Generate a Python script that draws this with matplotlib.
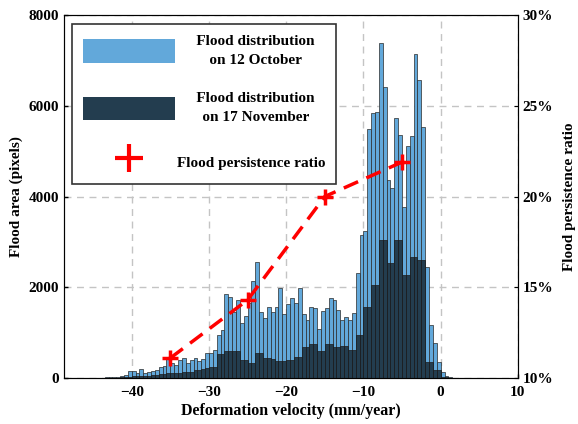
import numpy as np
import matplotlib
matplotlib.use('Agg')
import matplotlib.pyplot as plt
from matplotlib.patches import Patch
from matplotlib.lines import Line2D
from matplotlib.ticker import FuncFormatter

# histogram bins (left edges, mm/year), width 0.5
bin_lefts = np.arange(-44, 2, 0.5)
bin_width = 0.5

# flood area on 12 October (pixels)
october = [10, 15, 20, 25, 30, 35, 66, 161,
           161, 117, 191, 117, 140, 161, 176, 235, 257, 433,
           323, 290, 397, 433, 330, 400, 430, 380, 425, 560,
           543, 617, 948, 1058, 1844, 1778, 1462, 1719, 1219, 1366,
           1645, 2145, 2549, 1462, 1315, 1572, 1462, 1557, 1976, 1410,
           1631, 1756, 1645, 1976, 1410, 1278, 1572, 1550, 1072, 1477,
           1535, 1756, 1719, 1499, 1278, 1352, 1278, 1440, 2310, 3160,
           3230, 5480, 5833, 5870, 7376, 6406, 4364, 4180, 5741, 5366,
           3776, 5105, 5333, 7134, 6567, 5540, 2454, 1168, 764, 360,
           140, 40, 15, 8]

# flood area on 17 November (pixels)
november = [3, 5, 6, 8, 10, 12, 25, 30,
            35, 40, 45, 50, 55, 60, 70, 80, 90, 100,
            105, 110, 120, 125, 135, 140, 170, 176, 205, 213,
            250, 250, 529, 529, 602, 602, 598, 598, 397, 397,
            323, 323, 544, 544, 433, 433, 411, 380, 364, 364,
            405, 405, 470, 470, 690, 690, 749, 749, 602, 602,
            749, 749, 690, 690, 705, 705, 617, 617, 944, 944,
            1572, 1572, 2050, 2050, 3041, 3041, 2527, 2527, 3034, 3034,
            2270, 2270, 2674, 2674, 2600, 2600, 360, 360, 176, 176,
            30, 30, 5, 5]

# flood persistence ratio (%)
ratio_x = [-35, -25, -15, -5]
ratio_y = [11.1, 14.3, 20.0, 21.9]

light_blue = '#62a8da'
dark_blue = '#233d4f'

plt.rcParams['font.family'] = ['Liberation Serif', 'DejaVu Serif']
plt.rcParams['font.weight'] = 'bold'

fig = plt.figure(figsize=(5.78, 4.24), dpi=100)
ax = fig.add_axes([0.111, 0.1085, 0.785, 0.856])

ax.bar(bin_lefts, october, width=bin_width, align='edge', color=light_blue,
       edgecolor='#2a2a2a', linewidth=0.5)
ax.bar(bin_lefts, november, width=bin_width, align='edge', color=dark_blue,
       edgecolor='#1a1a1a', linewidth=0.5)

ax.set_xlim(-48.75, 10)
ax.set_ylim(0, 8000)
ax.set_xticks([-40, -30, -20, -10, 0, 10])
ax.set_yticks([0, 2000, 4000, 6000, 8000])
ax.set_axisbelow(True)
ax.grid(True, linestyle='--', color='#c4c4c4', linewidth=1, dashes=(5, 4))
ax.tick_params(direction='in', length=3, labelsize=11, width=1)
ax.tick_params(axis='x', pad=6)
for lab in ax.get_xticklabels() + ax.get_yticklabels():
    lab.set_fontweight('bold')
for sp in ax.spines.values():
    sp.set_color('#333333')

ax.set_xlabel('Deformation velocity (mm/year)', fontsize=11.5, fontweight='bold', labelpad=3)
ax.set_ylabel('Flood area (pixels)', fontsize=11, fontweight='bold', labelpad=4)

ax2 = ax.twinx()
ax2.set_ylim(10, 30)
ax2.set_yticks([10, 15, 20, 25, 30])
ax2.yaxis.set_major_formatter(FuncFormatter(lambda v, p: '%d%%' % v))
ax2.tick_params(direction='in', length=3, labelsize=11)
for lab in ax2.get_yticklabels():
    lab.set_fontweight('bold')
ax2.set_ylabel('Flood persistence ratio', fontsize=11, fontweight='bold',
               rotation=90, labelpad=7)

ax2.plot(ratio_x, ratio_y, color='red', linewidth=2.5, dashes=(4.5, 2.6),
         marker='+', markersize=11, markeredgewidth=2.5)

handles = [
    Patch(facecolor=light_blue, edgecolor='none'),
    Patch(facecolor=dark_blue, edgecolor='none'),
    Line2D([], [], color='red', linestyle='none', marker='+', markersize=20, markeredgewidth=3),
]
# leading spaces centre the two-line labels over the longest label
labels = ['     Flood distribution\n     on 12 October',
          '     Flood distribution\n     on 17 November',
          'Flood persistence ratio']
leg = ax2.legend(handles, labels, loc='upper left', bbox_to_anchor=(0.018, 0.975),
                 borderaxespad=0, fancybox=False, edgecolor='#333333', framealpha=1,
                 handlelength=6.0, handleheight=2.0, handletextpad=0.15,
                 labelspacing=1.68, borderpad=0.7, prop={'size': 11, 'weight': 'bold'})
leg.get_frame().set_linewidth(1.2)
for t in leg.get_texts():
    t.set_multialignment('center')
    t.set_linespacing(1.6)

fig.savefig('out.png', dpi=100)
